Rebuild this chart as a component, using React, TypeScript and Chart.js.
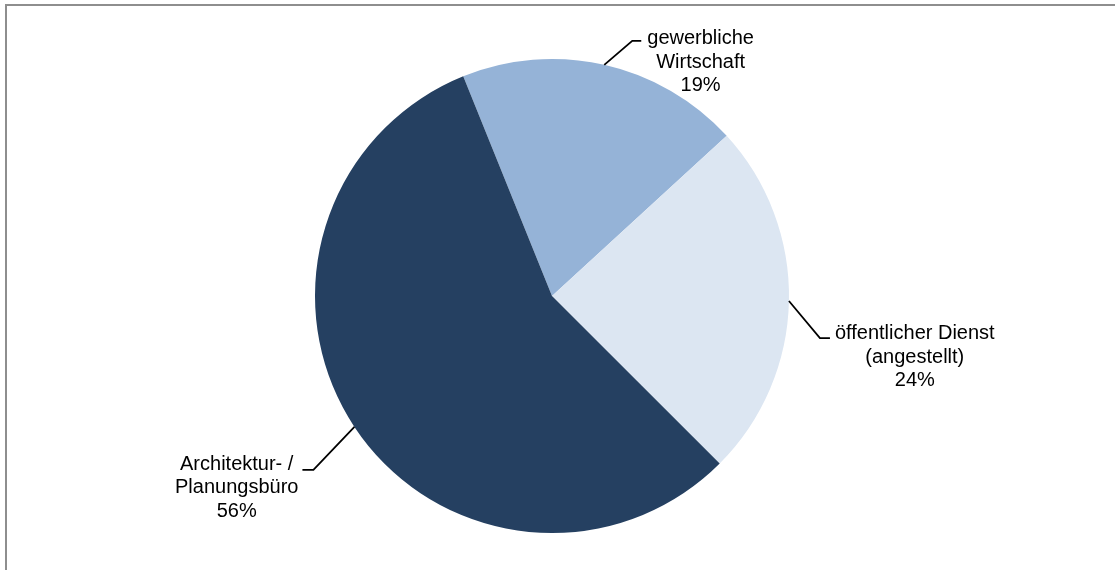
import React, { useEffect, useRef } from "react";
import { Chart, registerables } from "chart.js";

Chart.register(...registerables);

const categories = ["gewerbliche Wirtschaft", "öffentlicher Dienst (angestellt)", "Architektur- / Planungsbüro"];
const labelLines = [
  ["gewerbliche", "Wirtschaft"],
  ["öffentlicher Dienst", "(angestellt)"],
  ["Architektur- /", "Planungsbüro"],
];
const shares = [19.3, 24.3, 56.4];
const sliceColors = ["#95B3D7", "#DCE6F2", "#254061"];

const leaderLayout = [
  { dx: 28, dy: -24, h: 9, base: 3.5, gap: 6 },
  { dx: 31, dy: 37, h: 10, base: 1, gap: 5 },
  { dx: -41, dy: 43, h: -11, base: 0, gap: 4 },
];

const FONT = "20px 'Liberation Sans', Arial, sans-serif";
const LINE_H = 23.5;

const labelPlugin = {
  id: "pieLabels",
  afterDatasetsDraw(chart: any) {
    const ctx = chart.ctx;
    const meta = chart.getDatasetMeta(0);
    const data = chart.data.datasets[0].data as number[];
    const total = data.reduce((a, b) => a + b, 0);
    ctx.save();
    ctx.font = FONT;
    meta.data.forEach((arc: any, i: number) => {
      const p = arc.getProps(["x", "y", "startAngle", "endAngle", "outerRadius"], true);
      const mid = (p.startAngle + p.endAngle) / 2;
      const ax = p.x + Math.cos(mid) * p.outerRadius;
      const ay = p.y + Math.sin(mid) * p.outerRadius;
      const L = leaderLayout[i];
      const ex = ax + L.dx;
      const ey = ay + L.dy;
      const endX = ex + L.h;
      ctx.strokeStyle = "#000";
      ctx.lineWidth = 1.8;
      ctx.beginPath();
      ctx.moveTo(ax, ay);
      ctx.lineTo(ex, ey);
      ctx.lineTo(endX, ey);
      ctx.stroke();

      const lines = [...labelLines[i], Math.round((data[i] / total) * 100) + "%"];
      const w = Math.max(...lines.map((t) => ctx.measureText(t).width));
      const cx = L.h >= 0 ? endX + L.gap + w / 2 : endX - L.gap - w / 2;
      ctx.fillStyle = "#000";
      ctx.textAlign = "center";
      ctx.textBaseline = "alphabetic";
      lines.forEach((t, k) => {
        ctx.fillText(t, cx, ey + L.base + k * LINE_H);
      });
    });
    ctx.restore();
  },
};

export default function App() {
  const ref = useRef<HTMLCanvasElement | null>(null);
  useEffect(() => {
    if (!ref.current) return;
    const chart = new Chart(ref.current, {
      type: "pie",
      data: {
        labels: categories,
        datasets: [
          {
            data: shares,
            backgroundColor: sliceColors,
            borderWidth: 0,
          },
        ],
      },
      options: {
        responsive: false,
        animation: false,
        rotation: -22,
        layout: { padding: { top: 59, bottom: 37, left: 0, right: 11 } },
        plugins: {
          legend: { display: false },
          tooltip: { enabled: false },
        },
      },
      plugins: [labelPlugin],
    });
    return () => chart.destroy();
  }, []);

  return (
    <div style={{ position: "fixed", left: 0, top: 0, width: 1115, height: 570, overflow: "hidden", background: "#fff" }}>
      <div
        style={{
          position: "absolute",
          left: 5,
          top: 4,
          width: 1120,
          height: 580,
          border: "2px solid #8e8e8e",
          boxSizing: "border-box",
        }}
      />
      <canvas ref={ref} width={1115} height={570} style={{ position: "absolute", left: 0, top: 0 }} />
    </div>
  );
}
